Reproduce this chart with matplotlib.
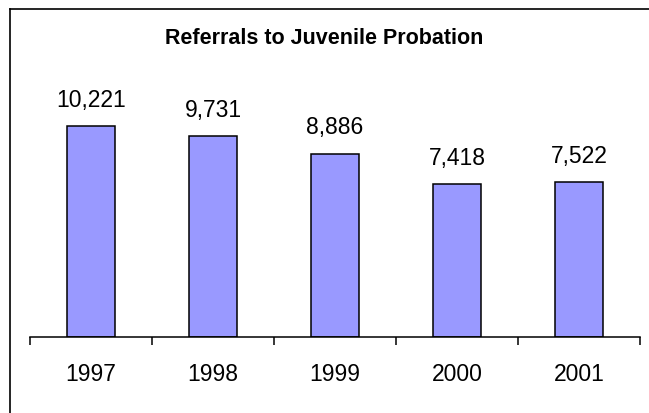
import matplotlib
matplotlib.use("Agg")
import matplotlib.pyplot as plt
from matplotlib.lines import Line2D

years = ["1997", "1998", "1999", "2000", "2001"]
referrals = [10221, 9731, 8886, 7418, 7522]
title = "Referrals to Juvenile Probation"

plt.rcParams['font.family'] = ['Liberation Sans', 'DejaVu Sans']

W, H = 649, 413
fig = plt.figure(figsize=(W / 100, H / 100), dpi=100)
fig.patch.set_facecolor("white")

ax = fig.add_axes([30 / W, (H - 337) / H, (640 - 30) / W, (337 - 60) / H])
x = list(range(len(years)))
bars = ax.bar(x, referrals, width=0.4, color="#9999FF", edgecolor="black", linewidth=1.1)
ax.set_xlim(-0.5, len(years) - 0.5)
ax.set_ylim(0, 13420)

for s in ["left", "right", "top"]:
    ax.spines[s].set_visible(False)
ax.spines["bottom"].set_linewidth(1.1)
ax.set_yticks([])

ax.set_xticks([i - 0.5 for i in range(len(years) + 1)])
ax.set_xticklabels([])
ax.tick_params(axis="x", which="major", direction="out", length=6, width=1.1)
ax.set_xticks(x, minor=True)
ax.set_xticklabels(years, minor=True, fontsize=16.5)
ax.tick_params(axis="x", which="minor", length=0, pad=18.5)

for rect, v in zip(bars, referrals):
    ax.annotate(f"{v:,}", (rect.get_x() + rect.get_width() / 2, v),
                xytext=(0, 13.8), textcoords="offset points",
                ha="center", va="baseline", fontsize=16.5)

fig.text(0.5, 1 - 39 / H, title, ha="center", va="center", fontsize=15.5, fontweight="bold")

# figure frame (left and top edges visible in the reference)
fig.add_artist(Line2D([9.5 / W, 9.5 / W], [0, 1 - 8.5 / H], transform=fig.transFigure,
                      color="black", linewidth=1.2))
fig.add_artist(Line2D([9.5 / W, 1], [1 - 8.5 / H, 1 - 8.5 / H], transform=fig.transFigure,
                      color="black", linewidth=1.2))

fig.savefig("out.png", dpi=100, facecolor="white")
